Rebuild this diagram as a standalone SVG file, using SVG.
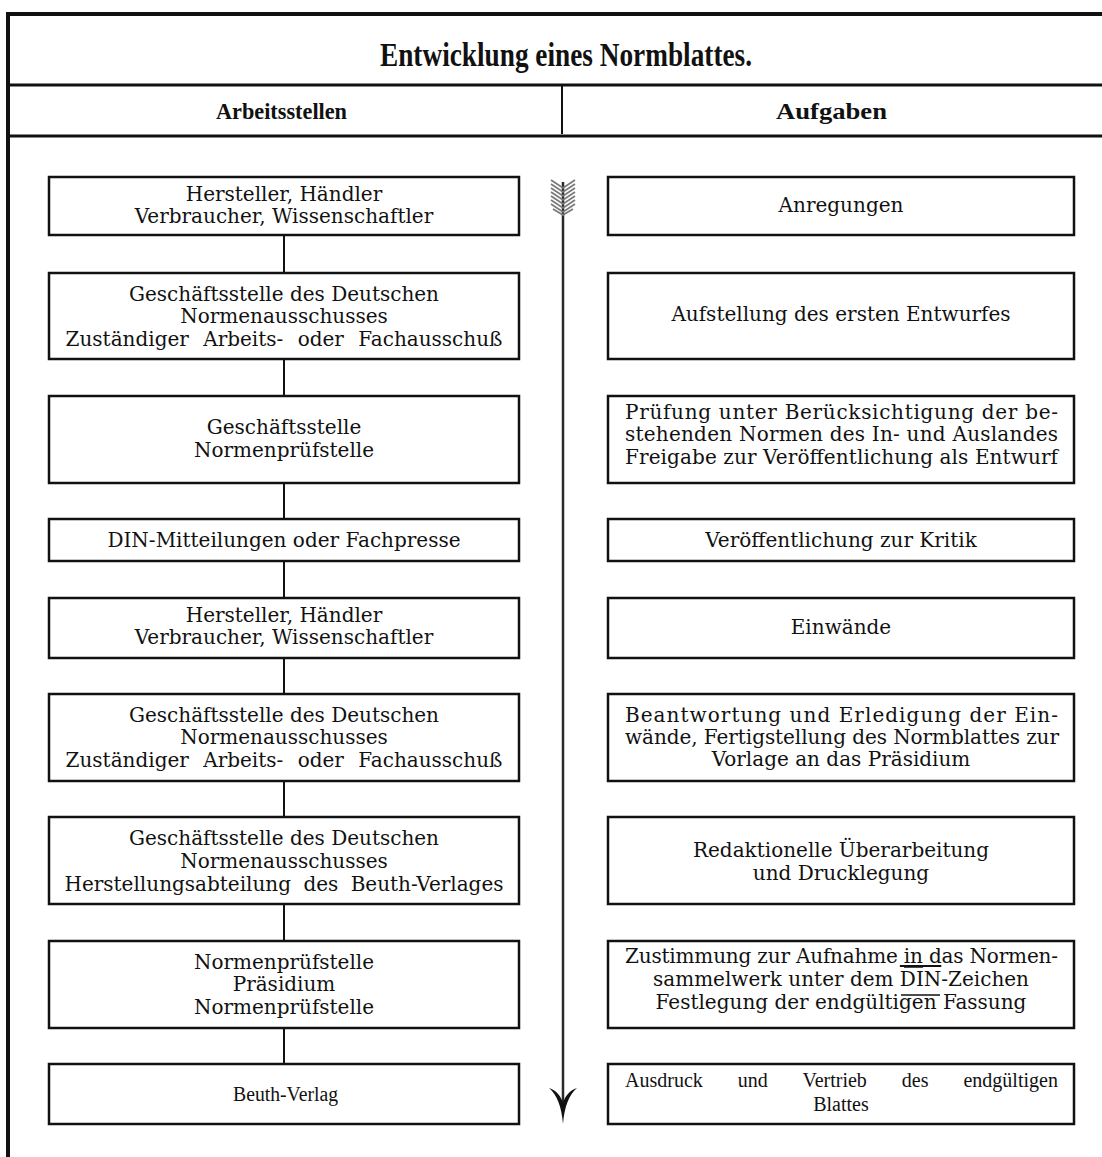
<svg xmlns="http://www.w3.org/2000/svg" width="1102" height="1157" viewBox="0 0 1102 1157">
  <style>
    .frame { stroke: #111; fill: none; }
    .box { fill: #fff; stroke: #111; stroke-width: 2.5; }
    .link { stroke: #111; stroke-width: 2; fill: none; }
    .t { font-family: "DejaVu Serif", "Liberation Serif", serif; font-size: 20px; fill: #111; text-anchor: middle; }
    .tj { font-family: "DejaVu Serif", "Liberation Serif", serif; font-size: 20px; fill: #111; text-anchor: start; }
    .hd { font-family: "Liberation Serif", serif; font-weight: bold; fill: #111; text-anchor: start; }
    .cd { font-family: "Liberation Serif", serif; font-size: 20px; fill: #111; text-anchor: start; }
    .feather { stroke: #7a7a7a; stroke-width: 1.8; fill: none; }
    .mark { stroke: #111; stroke-width: 1.5; }
  </style>

  <!-- table frame with title and column headings -->
  <g id="frame">
    <line class="frame" x1="8" y1="12" x2="8" y2="1157" stroke-width="4"/>
    <line class="frame" x1="6" y1="14" x2="1102" y2="14" stroke-width="4"/>
    <line class="frame" x1="6" y1="85" x2="1102" y2="85" stroke-width="3"/>
    <line class="frame" x1="6" y1="136" x2="1102" y2="136" stroke-width="3"/>
    <line class="frame" x1="562" y1="86" x2="562" y2="134" stroke-width="2"/>
    <text class="hd" x="380" y="66" font-size="33" textLength="372" lengthAdjust="spacingAndGlyphs">Entwicklung eines Normblattes.</text>
    <text class="hd" x="216" y="119" font-size="23" textLength="131" lengthAdjust="spacingAndGlyphs">Arbeitsstellen</text>
    <text class="hd" x="776" y="119" font-size="23" textLength="111" lengthAdjust="spacingAndGlyphs">Aufgaben</text>
  </g>

  <!-- connectors: left chain and the time arrow -->
  <g id="connectors">
    <line class="link" x1="284" y1="235" x2="284" y2="273"/>
    <line class="link" x1="284" y1="359" x2="284" y2="396"/>
    <line class="link" x1="284" y1="483" x2="284" y2="519"/>
    <line class="link" x1="284" y1="561" x2="284" y2="598"/>
    <line class="link" x1="284" y1="658" x2="284" y2="694"/>
    <line class="link" x1="284" y1="781" x2="284" y2="817"/>
    <line class="link" x1="284" y1="904" x2="284" y2="941"/>
    <line class="link" x1="284" y1="1028" x2="284" y2="1064"/>
    <g id="arrow">
      <line x1="563" y1="182" x2="563" y2="1112" stroke="#2a2a2a" stroke-width="2.5"/>
      <path class="feather" d="M551,180 L563,188 L575,180 M551,184 L563,192 L575,184 M551,188 L563,196 L575,188 M551,192 L563,200 L575,192 M551,196 L563,204 L575,196 M551,200 L563,208 L575,200 M551,204 L563,212 L575,204 M553,209 L563,215 L573,209"/>
      <path d="M563,1124 C561.5,1106 557,1095 549,1088 C556,1090 561,1096 563,1103 C565,1096 570,1090 577,1088 C569,1095 564.5,1106 563,1124 Z" fill="#111"/>
    </g>
  </g>

  <!-- left column: Arbeitsstellen -->
  <g id="a1"><rect class="box" x="49" y="177" width="470" height="58"/>
    <text class="t" x="284" y="201">Hersteller, Händler</text>
    <text class="t" x="284" y="223">Verbraucher, Wissenschaftler</text></g>
  <g id="a2"><rect class="box" x="49" y="273" width="470" height="86"/>
    <text class="t" x="284" y="301">Geschäftsstelle des Deutschen</text>
    <text class="t" x="284" y="323">Normenausschusses</text>
    <text class="t" x="284" y="346" word-spacing="8">Zuständiger Arbeits- oder Fachausschuß</text></g>
  <g id="a3"><rect class="box" x="49" y="396" width="470" height="87"/>
    <text class="t" x="284" y="434">Geschäftsstelle</text>
    <text class="t" x="284" y="457">Normenprüfstelle</text></g>
  <g id="a4"><rect class="box" x="49" y="519" width="470" height="42"/>
    <text class="t" x="284" y="547">DIN-Mitteilungen oder Fachpresse</text></g>
  <g id="a5"><rect class="box" x="49" y="598" width="470" height="60"/>
    <text class="t" x="284" y="622">Hersteller, Händler</text>
    <text class="t" x="284" y="644">Verbraucher, Wissenschaftler</text></g>
  <g id="a6"><rect class="box" x="49" y="694" width="470" height="87"/>
    <text class="t" x="284" y="722">Geschäftsstelle des Deutschen</text>
    <text class="t" x="284" y="744">Normenausschusses</text>
    <text class="t" x="284" y="767" word-spacing="8">Zuständiger Arbeits- oder Fachausschuß</text></g>
  <g id="a7"><rect class="box" x="49" y="817" width="470" height="87"/>
    <text class="t" x="284" y="845">Geschäftsstelle des Deutschen</text>
    <text class="t" x="284" y="868">Normenausschusses</text>
    <text class="t" x="284" y="891" word-spacing="6">Herstellungsabteilung des Beuth-Verlages</text></g>
  <g id="a8"><rect class="box" x="49" y="941" width="470" height="87"/>
    <text class="t" x="284" y="969">Normenprüfstelle</text>
    <text class="t" x="284" y="991">Präsidium</text>
    <text class="t" x="284" y="1014">Normenprüfstelle</text></g>
  <g id="a9"><rect class="box" x="49" y="1064" width="470" height="60"/>
    <text class="cd" x="233" y="1101" font-size="22" textLength="105" lengthAdjust="spacingAndGlyphs">Beuth-Verlag</text></g>

  <!-- right column: Aufgaben -->
  <g id="b1"><rect class="box" x="608" y="177" width="466" height="58"/>
    <text class="t" x="841" y="212">Anregungen</text></g>
  <g id="b2"><rect class="box" x="608" y="273" width="466" height="86"/>
    <text class="t" x="841" y="321">Aufstellung des ersten Entwurfes</text></g>
  <g id="b3"><rect class="box" x="608" y="396" width="466" height="87"/>
    <text class="tj" x="625" y="419" textLength="433" lengthAdjust="spacing">Prüfung unter Berücksichtigung der be-</text>
    <text class="tj" x="625" y="441" textLength="433" lengthAdjust="spacing">stehenden Normen des In- und Auslandes</text>
    <text class="tj" x="625" y="464" textLength="433" lengthAdjust="spacing">Freigabe zur Veröffentlichung als Entwurf</text></g>
  <g id="b4"><rect class="box" x="608" y="519" width="466" height="42"/>
    <text class="t" x="841" y="547">Veröffentlichung zur Kritik</text></g>
  <g id="b5"><rect class="box" x="608" y="598" width="466" height="60"/>
    <text class="t" x="841" y="634">Einwände</text></g>
  <g id="b6"><rect class="box" x="608" y="694" width="466" height="87"/>
    <text class="tj" x="625" y="722" textLength="433" lengthAdjust="spacing">Beantwortung und Erledigung der Ein-</text>
    <text class="tj" x="625" y="744" textLength="434" lengthAdjust="spacing">wände, Fertigstellung des Normblattes zur</text>
    <text class="t" x="841" y="766">Vorlage an das Präsidium</text></g>
  <g id="b7"><rect class="box" x="608" y="817" width="466" height="87"/>
    <text class="t" x="841" y="857">Redaktionelle Überarbeitung</text>
    <text class="t" x="841" y="880">und Drucklegung</text></g>
  <g id="b8"><rect class="box" x="608" y="941" width="466" height="87"/>
    <text class="tj" x="625" y="963" textLength="433" lengthAdjust="spacing">Zustimmung zur Aufnahme in das Normen-</text>
    <line class="mark" x1="904" y1="967" x2="923" y2="967"/>
    <text class="t" x="841" y="986">sammelwerk unter dem <tspan text-decoration="overline">DIN</tspan>-Zeichen</text>
    <line class="mark" x1="901" y1="995" x2="940" y2="995"/>
    <text class="t" x="841" y="1009">Festlegung der endgültigen Fassung</text></g>
  <g id="b9"><rect class="box" x="608" y="1064" width="466" height="60"/>
    <text class="cd" x="625" y="1087" word-spacing="30">Ausdruck und Vertrieb des endgültigen</text>
    <text class="cd" x="841" y="1111" style="text-anchor:middle">Blattes</text></g>
</svg>
